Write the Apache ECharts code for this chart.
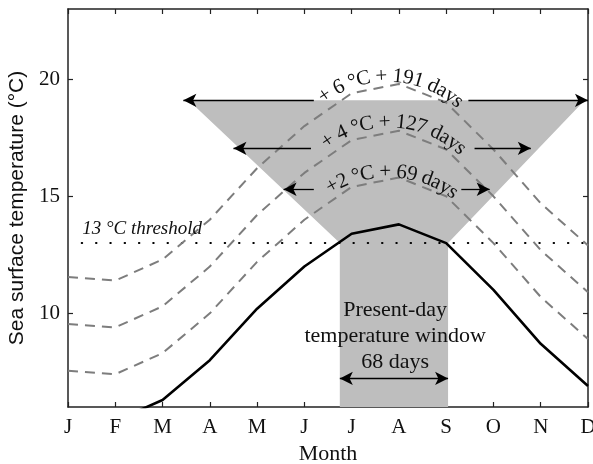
<!DOCTYPE html>
<html><head><meta charset="utf-8">
<script src="https://cdn.jsdelivr.net/npm/echarts@6/dist/echarts.min.js"></script>
<style>html,body{margin:0;padding:0;background:#fff}#c{width:593px;height:464px}</style>
</head><body><div id="c"></div>
<script>
// ---- data ----
const months = ['J','F','M','A','M','J','J','A','S','O','N','D'];
const monthIndex = [0,1,2,3,4,5,6,7,8,9,10,11];
const presentDay = [5.55,5.4,6.3,8.0,10.2,12.0,13.4,13.8,13.0,11.0,8.7,6.9];
const plus2 = [7.55,7.4,8.3,10.0,12.2,14.0,15.4,15.8,15.0,13.0,10.7,8.9];
const plus4 = [9.55,9.4,10.3,12.0,14.2,16.0,17.4,17.8,17.0,15.0,12.7,10.9];
const plus6 = [11.55,11.4,12.3,14.0,16.2,18.0,19.4,19.8,19.0,17.0,14.7,12.9];
const yTicks = [10,15,20];
const threshold = 13;
// shaded window polygon (month, °C)
const windowPolyX = [5.75,5.75,2.55,10.93,8.04,8.04];
const windowPolyY = [6,13,19.1,19.1,13,6];
// arrows: [fromMonth, toMonth, temp]
const arrowSegments = [
  [5.20,2.44,19.1],[8.47,11.0,19.1],
  [5.14,3.50,17.05],[8.60,9.79,17.05],
  [5.20,4.56,15.3],[8.32,8.92,15.3]
];
const presentArrow = [5.75,8.04,7.22];
// text
const arcLabels = ['+ 6 \u00B0C + 191 days','+ 4 \u00B0C + 127 days','+2 \u00B0C + 69 days'];
const thresholdLabel = '13 \u00B0C threshold';
const windowLabel = 'Present-day\ntemperature window\n68 days';

// ---- layout constants ----
const arcCenters = [[6.76,15.43],[6.80,13.56],[6.77,11.22]];
const arcRadii = [110,108,113];
const arcMidDeg = [2,2.7,2.3];
const serif = '"Liberation Serif", "DejaVu Serif", serif';
const arcFont = '21px ' + serif;

const chart = echarts.init(document.getElementById('c'), null, {renderer:'canvas'});
const pts = arr => monthIndex.map((m,i)=>[m,arr[i]]);
const axisCol = '#222';
const xAxisBase = {type:'value', min:0, max:11, interval:1, splitLine:{show:false},
  axisLine:{show:true, onZero:false, lineStyle:{color:axisCol,width:1.5}},
  axisTick:{show:true, inside:true, length:5, lineStyle:{color:axisCol,width:1.2}}};
const yAxisBase = {type:'value', min:6, max:23, splitLine:{show:false},
  axisLine:{show:true, onZero:false, lineStyle:{color:axisCol,width:1.5}},
  axisTick:{show:true, inside:true, length:5, customValues:yTicks, lineStyle:{color:axisCol,width:1.2}}};

const markSegs = arrowSegments.map(s=>[{coord:[s[0],s[2]]},{coord:[s[1],s[2]]}]);

chart.setOption({
  animation:false,
  grid:{left:68,right:5,top:9,bottom:57,show:false,containLabel:false,outerBoundsMode:'none'},
  xAxis:[
    Object.assign({}, xAxisBase, {position:'bottom',
      axisLabel:{show:true, margin:10, formatter:v=>months[v], color:'#111', fontFamily:serif, fontSize:21},
      name:'Month', nameLocation:'middle', nameGap:36, nameTextStyle:{color:'#111', fontFamily:serif, fontSize:22}}),
    Object.assign({}, xAxisBase, {position:'top', axisLabel:{show:false}})
  ],
  yAxis:[
    Object.assign({}, yAxisBase, {position:'left',
      axisLabel:{show:true, customValues:yTicks, margin:8, color:'#111', fontFamily:serif, fontSize:21},
      name:'Sea surface temperature (\u00B0C)', nameLocation:'middle', nameGap:35,
      nameTextStyle:{color:'#111', fontFamily:'"Liberation Sans", Arial, sans-serif', fontSize:21}}),
    Object.assign({}, yAxisBase, {position:'right', axisLabel:{show:false}})
  ],
  series:[
    {type:'custom', z:1, silent:true,
      data: windowPolyX.map((x,i)=>[x,windowPolyY[i]]),
      renderItem:(params, api)=>{
        if (params.dataIndex !== 0) return null;
        const p = windowPolyX.map((x,i)=>api.coord([x,windowPolyY[i]]));
        return {type:'polygon', shape:{points:p}, style:{fill:'#bebebe', stroke:null}};
      }},
    {type:'line', z:2, data:[[0,threshold],[11,threshold]], symbol:'none', silent:true,
      lineStyle:{color:'#000', width:2, type:[0.5,13.8], dashOffset:0.6, cap:'round'}},
    {type:'line', z:3, data:pts(plus2), symbol:'none', silent:true,
      lineStyle:{color:'#7d7d7d', width:2, type:[10,7]}},
    {type:'line', z:3, data:pts(plus4), symbol:'none', silent:true,
      lineStyle:{color:'#7d7d7d', width:2, type:[10,7]}},
    {type:'line', z:3, data:pts(plus6), symbol:'none', silent:true,
      lineStyle:{color:'#7d7d7d', width:2, type:[10,7]}},
    {type:'line', z:4, data:pts(presentDay), symbol:'none', silent:true,
      lineStyle:{color:'#000', width:2.6}},
    {type:'line', z:5, data:[], silent:true,
      markLine:{silent:true, animation:false, symbol:['none','arrow'], symbolSize:[10,13],
        label:{show:false}, lineStyle:{color:'#000', width:1.3, type:'solid'},
        emphasis:{disabled:true}, data:markSegs.concat([
          [{coord:[presentArrow[0],presentArrow[2]], symbol:'arrow'},{coord:[presentArrow[1],presentArrow[2]]}]
        ])}}
  ]
});

function buildGraphics(){
  const ctx = document.createElement('canvas').getContext('2d');
  ctx.font = arcFont;
  const els = [];
  arcLabels.forEach((txt,k)=>{
    const c = chart.convertToPixel({gridIndex:0}, arcCenters[k]);
    const R = arcRadii[k];
    const chars = Array.from(txt);
    const widths = chars.map(ch=>ctx.measureText(ch).width);
    const total = widths.reduce((a,b)=>a+b,0);
    const mid = arcMidDeg[k]*Math.PI/180;
    let s = -total/2;
    chars.forEach((ch,i)=>{
      const sc = s + widths[i]/2; s += widths[i];
      if (ch === ' ') return;
      const th = mid + sc/R;
      els.push({type:'text', z:100, silent:true,
        x: c[0] + R*Math.sin(th), y: c[1] - R*Math.cos(th), rotation: -th,
        style:{text:ch, font:arcFont, fill:'#111', align:'center', verticalAlign:'middle'}});
    });
  });
  const tp = chart.convertToPixel({gridIndex:0}, [0.3, 13.2]);
  els.push({type:'text', z:100, silent:true, x:tp[0], y:tp[1],
    style:{text:thresholdLabel, font:'italic 19px ' + serif, fill:'#111', align:'left', verticalAlign:'bottom'}});
  const wp = chart.convertToPixel({gridIndex:0}, [6.92, 9.02]);
  els.push({type:'text', z:100, silent:true, x:wp[0], y:wp[1],
    style:{text:windowLabel, font:'22px ' + serif, lineHeight:26, fill:'#111', align:'center', verticalAlign:'middle'}});
  chart.setOption({graphic: els});
}
buildGraphics();
</script>
</body></html>
